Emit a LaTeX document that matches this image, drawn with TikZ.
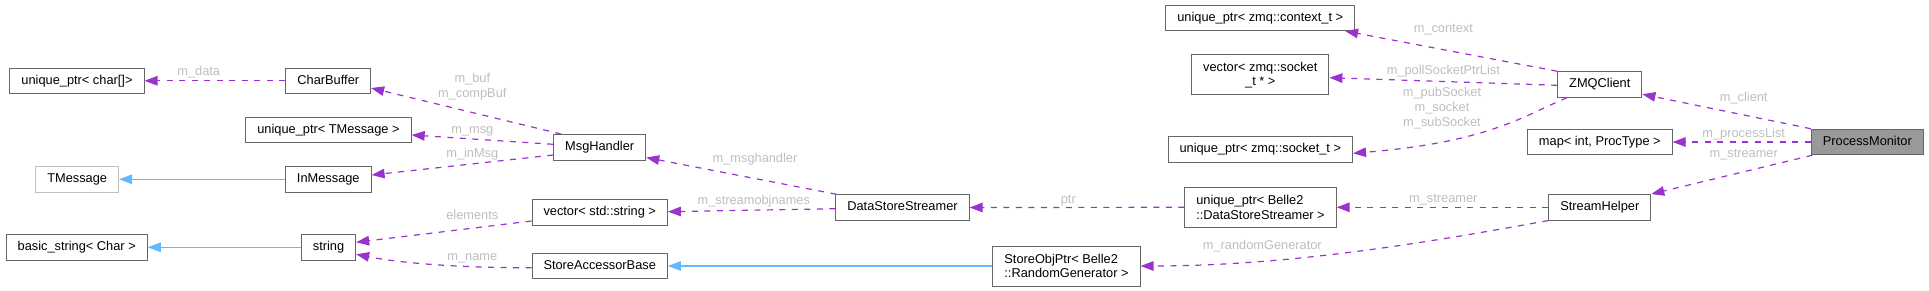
\documentclass[tikz,border=0pt]{standalone}
\usepackage{fontspec}
\setmainfont{Liberation Sans}
\usetikzlibrary{arrows.meta}

\definecolor{edgepurple}{HTML}{9A32CD}
\definecolor{inhblue}{HTML}{63B8FF}
\definecolor{lblgrey}{HTML}{BEBEBE}
\definecolor{boxgrey}{HTML}{666666}
\definecolor{faintgrey}{HTML}{BFBFBF}
\definecolor{focusgrey}{HTML}{999999}

\begin{document}
\begin{tikzpicture}[x=1pt,y=-1pt]

    \tikzset{
      cls/.style={
        draw=boxgrey,
        line width=1pt,
        fill=white,
        font=\fontsize{12.8}{14.7}\selectfont,
        inner xsep=11.5pt,
        inner ysep=0pt,
        minimum height=25.5pt,
        text height=9.2pt,
        text depth=2.7pt,
      },
      cls2/.style={cls, minimum height=40pt, text height=, text depth=},
      lbl/.style={
        text=lblgrey,
        font=\fontsize{12.8}{14.7}\selectfont,
        inner sep=0pt,
        text height=9.2pt,
        text depth=2.7pt,
      },
      lbl2/.style={lbl, align=center, text height=, text depth=},
      mem/.style={
        draw=edgepurple,
        line width=1.2pt,
        dash pattern=on 6pt off 6.5pt,
        -{Triangle[length=13pt,width=9.5pt]},
      },
      inh/.style={
        draw=inhblue,
        line width=1.2pt,
        -{Triangle[length=13pt,width=9.5pt]},
      },
    }
    \useasboundingbox (0,0) rectangle (1929,291);

    % classes
    \node[cls] (uptrchar) at (77,80.8) {unique\_ptr< char[]>};
    \node[cls] (charbuf) at (328.3,80.8) {CharBuffer};
    \node[cls] (uptrtmsg) at (328.5,130) {unique\_ptr< TMessage >};
    \node[cls, draw=faintgrey] (tmessage) at (77.2,179.3) {TMessage};
    \node[cls] (inmsg) at (328.3,179.3) {InMessage};
    \node[cls] (basicstr) at (76.7,247.3) {basic\_string< Char >};
    \node[cls] (string) at (328.5,247.3) {string};
    \node[cls] (msghandler) at (599.7,147.3) {MsgHandler};
    \node[cls] (vecstr) at (599.7,212.7) {vector< std::string >};
    \node[cls] (storeacc) at (599.7,266) {StoreAccessorBase};
    \node[cls] (dss) at (902.5,207.5) {DataStoreStreamer};
    \node[cls2, align=left] (storeobj) at (1066.5,266) {StoreObjPtr< Belle2\\::RandomGenerator >};
    \node[cls] (uptrctx) at (1260.2,17.8) {unique\_ptr< zmq::context\_t >};
    \node[cls2, align=center] (veczmq) at (1260.3,75) {vector< zmq::socket\\\_t * >};
    \node[cls] (uptrsock) at (1260.3,149.7) {unique\_ptr< zmq::socket\_t >};
    \node[cls2, align=left] (uptrdss) at (1260.5,207.3) {unique\_ptr< Belle2\\::DataStoreStreamer >};
    \node[cls] (zmqclient) at (1599.8,84.5) {ZMQClient};
    \node[cls] (mapproc) at (1599.8,142) {map< int, ProcType >};
    \node[cls] (streamhelper) at (1599.8,207.3) {StreamHelper};
    \node[cls, fill=focusgrey] (procmon) at (1867.3,142) {ProcessMonitor};

    % members
    \draw[mem] (charbuf.west) -- (uptrchar.east);
    \draw[mem] ([xshift=8pt]msghandler.north west) -- ([yshift=6pt]charbuf.south east);
    \draw[mem] ([yshift=3pt]msghandler.west) -- ([yshift=-5pt]uptrtmsg.east);
    \draw[mem] ([yshift=-7.7pt]msghandler.west) -- ([yshift=4.3pt]inmsg.east);
    \draw[mem] ([yshift=-8.3pt]vecstr.west) -- ([yshift=5pt]string.east);
    \draw[mem] ([yshift=-1.7pt]storeacc.west) .. controls (460,268) and (400,263) .. ([yshift=-7pt]string.east);
    \draw[mem] ([xshift=1pt]dss.north west) -- ([yshift=3pt]msghandler.south east);
    \draw[mem] ([yshift=-1.2pt]dss.west) -- ([yshift=1pt]vecstr.east);
    \draw[mem] (uptrdss.west) -- (dss.east);
    \draw[mem] (zmqclient.north west) -- ([xshift=-10pt]uptrctx.south east);
    \draw[mem] ([yshift=-0.8pt]zmqclient.west) -- ([yshift=-2.7pt]veczmq.east);
    \draw[mem] ([xshift=9.7pt]zmqclient.south west) .. controls (1525,115) and (1490,142) .. ([yshift=-3.6pt]uptrsock.east);
    \draw[mem] (procmon.north west) -- ([yshift=3.5pt]zmqclient.south east);
    \draw[mem] (procmon.west) -- (mapproc.east);
    \draw[mem] ([xshift=1.5pt]procmon.south west) -- (streamhelper.north east);
    \draw[mem] (streamhelper.west) -- (uptrdss.east);
    \draw[mem] (streamhelper.south west) .. controls (1430,242) and (1290,266) .. (storeobj.east);

    % bases
    \draw[inh] (inmsg.west) -- (tmessage.east);
    \draw[inh] (string.west) -- (basicstr.east);
    \draw[inh] (storeobj.west) -- (storeacc.east);

    % labels
    \node[lbl] (ldata) at (198.7,72.5) {m\_data};
    \node[lbl2] (lbuf) at (472.3,86.7) {m\_buf\\m\_compBuf};
    \node[lbl] (lmsg) at (472.3,130) {m\_msg};
    \node[lbl] (linmsg) at (472.3,154.3) {m\_inMsg};
    \node[lbl] (lelem) at (472.3,216.7) {elements};
    \node[lbl] (lname) at (472.3,257) {m\_name};
    \node[lbl] (lmsgh) at (755,159) {m\_msghandler};
    \node[lbl] (lobjn) at (753.8,201) {m\_streamobjnames};
    \node[lbl] (lptr) at (1068.3,200) {ptr};
    \node[lbl] (lctx) at (1443.3,29.7) {m\_context};
    \node[lbl] (lpoll) at (1443.3,71) {m\_pollSocketPtrList};
    \node[lbl2] (lsock) at (1442,108) {m\_pubSocket\\m\_socket\\m\_subSocket};
    \node[lbl] (lstrm) at (1443.3,199) {m\_streamer};
    \node[lbl] (lrand) at (1262.3,246) {m\_randomGenerator};
    \node[lbl] (lclient) at (1743.7,98) {m\_client};
    \node[lbl] (lproc) at (1743.7,134) {m\_processList};
    \node[lbl] (lstrm2) at (1743.7,154) {m\_streamer};

\end{tikzpicture}
\end{document}
